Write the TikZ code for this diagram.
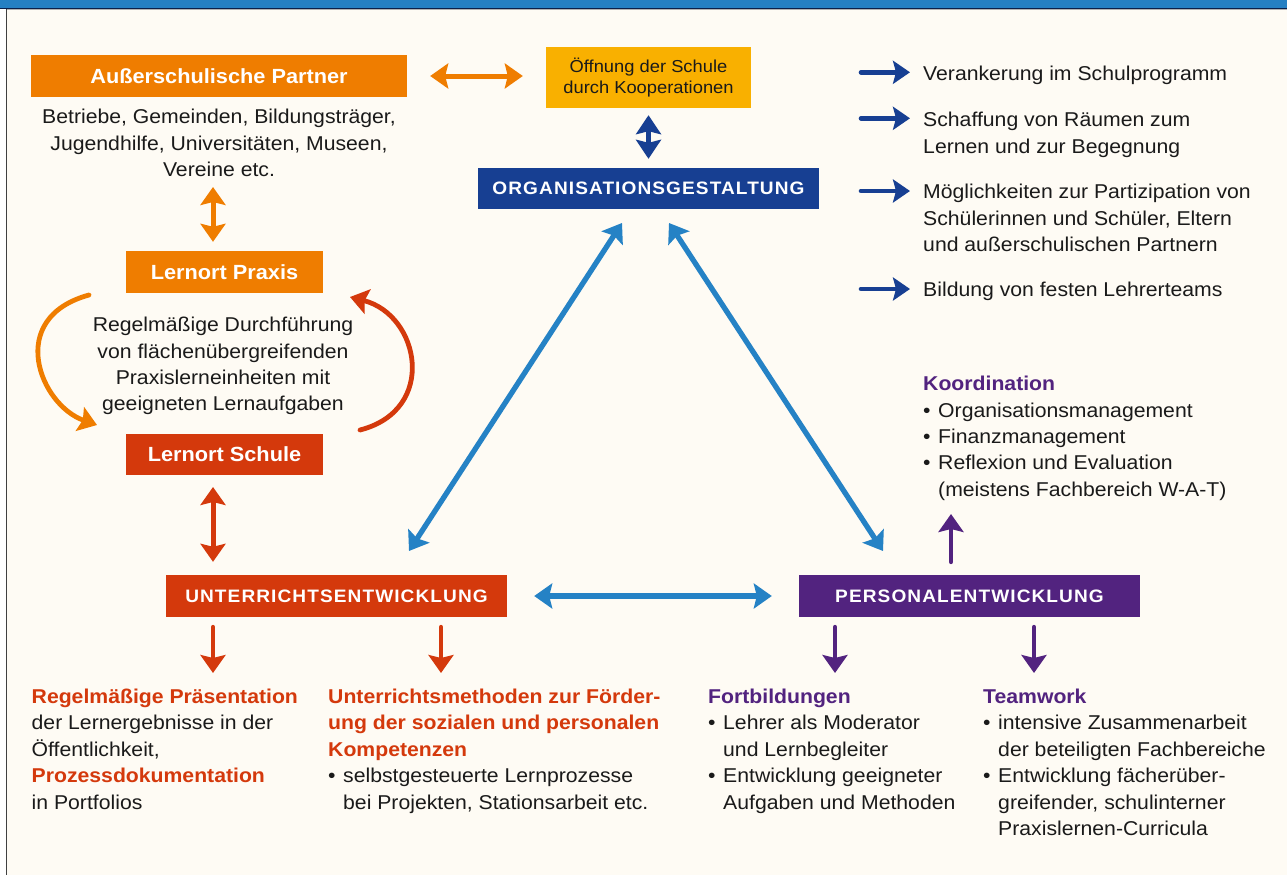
\documentclass[tikz,border=0pt]{standalone}
\usepackage{fontspec}
\setmainfont[FakeStretch=1.06]{Liberation Sans}
\usetikzlibrary{arrows.meta}
\definecolor{cOr}{HTML}{EF7D00}
\definecolor{cGold}{HTML}{F9B000}
\definecolor{cRed}{HTML}{D4390C}
\definecolor{cDBlue}{HTML}{173F92}
\definecolor{cLBlue}{HTML}{2582C5}
\definecolor{cPurp}{HTML}{52237F}
\definecolor{cBg}{HTML}{FEFBF4}
\definecolor{cTxt}{HTML}{1A1A1A}
\definecolor{cBar}{HTML}{2580C3}
\newcommand\rfont{\fontsize{20}{26.5}\selectfont}
\newcommand\bfnt{\fontsize{20.5}{26.5}\selectfont\bfseries}
\newcommand\capfont{\fontsize{18}{22}\selectfont\bfseries\addfontfeature{LetterSpace=6}}
\newcommand\st{\rule{0pt}{20pt}}
\newcommand\bul{\makebox[15pt][l]{•}}
\newcommand\ind{\hspace*{15pt}}
\newcommand\hr[1]{\textcolor{cRed}{\bfseries #1}}
\newcommand\hp[1]{\textcolor{cPurp}{\bfseries #1}}
\tikzset{
  BigT/.tip={Stealth[length=18pt,width=25pt,inset=3pt]},
  SmT/.tip={Stealth[length=17pt,width=23pt,inset=3pt]},
  boxnode/.style={inner sep=0pt, minimum height=42pt, text=white, font=\bfnt, text height=14.7pt, text depth=0pt},
  capbox/.style={inner sep=0pt, minimum height=41.5pt, minimum width=341pt, text=white, font=\capfont, text height=12.9pt, text depth=0pt},
  txt/.style={inner sep=0pt, font=\rfont, text=cTxt, align=left},
  dbl/.style={draw=#1, line width=5pt, arrows=BigT-BigT},
  one/.style={draw=#1, line width=4.8pt, line cap=round, arrows=-BigT},
  lst/.style={draw=cDBlue, line width=4.6pt, line cap=round, arrows=-SmT},
}
\begin{document}
\begin{tikzpicture}[x=1pt,y=-1pt]
\useasboundingbox (0,0) rectangle (1287,875);
\fill[white] (0,0) rectangle (1287,875);
\fill[cBg] (6,9) rectangle (1287,875);
\fill[cBar] (0,0) rectangle (1287,7.8);
\draw[cDBlue!50!black, line width=1.2pt] (0,8.3) -- (1287,8.3);
\draw[gray!60, line width=0.8pt] (6,9.5) -- (1287,9.5);
\draw[black!75, line width=1.3pt] (6.6,8.8) -- (6.6,875);

% boxes
\node[boxnode, fill=cOr, minimum width=376pt] (partner) at (219,76) {Außerschulische Partner};
\node[inner sep=0pt, fill=cGold, minimum width=205pt, minimum height=61pt, align=center, text=cTxt,
      font=\fontsize{17.3}{21.3}\selectfont] (oeff) at (648.5,77.5) {Öffnung der Schule\\durch Kooperationen};
\node[capbox, fill=cDBlue] (org) at (648.5,188.5) {ORGANISATIONSGESTALTUNG};
\node[boxnode, fill=cOr, minimum width=197pt] (praxis) at (224.5,272) {Lernort Praxis};
\node[boxnode, fill=cRed, minimum width=197pt, minimum height=41pt] (schule) at (224.5,454.5) {Lernort Schule};
\node[capbox, fill=cRed, minimum height=42pt] (unter) at (336.5,596) {UNTERRICHTSENTWICKLUNG};
\node[capbox, fill=cPurp, minimum height=42pt] (pers) at (969.5,596) {PERSONALENTWICKLUNG};

% texts
\node[txt, anchor=north, align=center] (partnertxt) at (219,103.5)
  {\st Betriebe, Gemeinden, Bildungsträger,\\Jugendhilfe, Universitäten, Museen,\\Vereine etc.};
\node[txt, anchor=north, align=center, font=\fontsize{20}{26.4}\selectfont] (praxtxt) at (223,311.5)
  {\st Regelmäßige Durchführung\\von flächenübergreifenden\\Praxislerneinheiten mit\\geeigneten Lernaufgaben};
\node[txt, anchor=north west] (l1) at (923,60) {\st Verankerung im Schulprogramm};
\node[txt, anchor=north west, font=\fontsize{20}{27}\selectfont] (l2) at (923,106) {\st Schaffung von Räumen zum\\Lernen und zur Begegnung};
\node[txt, anchor=north west, font=\fontsize{20}{26.7}\selectfont] (l3) at (923,178.3) {\st Möglichkeiten zur Partizipation von\\Schülerinnen und Schüler, Eltern\\und außerschulischen Partnern};
\node[txt, anchor=north west] (l4) at (923,276.7) {\st Bildung von festen Lehrerteams};
\node[txt, anchor=north west, font=\fontsize{20}{26.3}\selectfont] (koord) at (923,370.7)
  {\st\hp{Koordination}\\\bul Organisationsmanagement\\\bul Finanzmanagement\\\bul Reflexion und Evaluation\\\ind(meistens Fachbereich W-A-T)};
\node[txt, anchor=north west] (c1) at (31.5,683)
  {\st\hr{Regelmäßige Präsentation}\\der Lernergebnisse in der\\Öffentlichkeit,\\\hr{Prozessdokumentation}\\in Portfolios};
\node[txt, anchor=north west] (c2) at (328,683)
  {\st\hr{Unterrichtsmethoden zur Förder-}\\\hr{ung der sozialen und personalen}\\\hr{Kompetenzen}\\\bul selbstgesteuerte Lernprozesse\\\ind bei Projekten, Stationsarbeit etc.};
\node[txt, anchor=north west] (c3) at (708,683)
  {\st\hp{Fortbildungen}\\\bul Lehrer als Moderator\\\ind und Lernbegleiter\\\bul Entwicklung geeigneter\\\ind Aufgaben und Methoden};
\node[txt, anchor=north west] (c4) at (983,683)
  {\st\hp{Teamwork}\\\bul intensive Zusammenarbeit\\\ind der beteiligten Fachbereiche\\\bul Entwicklung fächerüber-\\\ind greifender, schulinterner\\\ind Praxislernen-Curricula};

% arrows top
\draw[dbl=cOr, shorten <=23pt, shorten >=23pt] (partner.east) -- (partner.east -| oeff.west);
\draw[dbl=cDBlue, arrows={Stealth[length=19pt,width=25pt,inset=3pt]-Stealth[length=19pt,width=25pt,inset=3pt]}, shorten <=7pt, shorten >=8.75pt] (oeff.south) -- (org.north);
\coordinate (ot) at (213,187);
\draw[dbl=cOr, shorten >=9pt] (ot) -- (ot |- praxis.north);
\coordinate (rt) at (213,487);
\draw[dbl=cRed, shorten >=13pt] (rt) -- (rt |- unter.north);

% list arrows
\coordinate (p1) at (861,72.3);
\coordinate (p2) at (861,118.3);
\coordinate (p3) at (861,191);
\coordinate (p4) at (861,289);
\draw[lst, shorten >=13pt] (p1) -- (p1 -| l1.west);
\draw[lst, shorten >=13pt] (p2) -- (p2 -| l2.west);
\draw[lst, shorten >=13pt] (p3) -- (p3 -| l3.west);
\draw[lst, shorten >=13pt] (p4) -- (p4 -| l4.west);

% cycle arrows
\coordinate (lcs) at (89,295);
\coordinate (lce) at (97,425);
\coordinate (rcs) at (360,430);
\coordinate (rce) at (350,297);
\draw[one=cOr] (lcs) .. controls (5,318) and (40,405) .. (lce);
\draw[one=cRed] (rcs) .. controls (438,410) and (420,315) .. (rce);

% triangle
\coordinate (dl1) at (622,223);
\coordinate (dl2) at (409,551);
\coordinate (dr1) at (669,223);
\coordinate (dr2) at (883,551);
\draw[dbl=cLBlue, line width=5.3pt] (dl1) -- (dl2);
\draw[dbl=cLBlue, line width=5.3pt] (dr1) -- (dr2);
\draw[dbl=cLBlue, line width=5.3pt, shorten <=27pt, shorten >=27pt] (unter.east) -- (pers.west);

% down arrows
\draw[one=cRed, shorten <=10pt, shorten >=10pt] ([xshift=-123.5pt]unter.south) -- ([xshift=-123.5pt]unter.south |- c1.north);
\draw[one=cRed, shorten <=10pt, shorten >=10pt] ([xshift=104.5pt]unter.south) -- ([xshift=104.5pt]unter.south |- c2.north);
\draw[one=cPurp, shorten <=10pt, shorten >=10pt] ([xshift=-134.5pt]pers.south) -- ([xshift=-134.5pt]pers.south |- c3.north);
\draw[one=cPurp, shorten <=10pt, shorten >=10pt] ([xshift=64.5pt]pers.south) -- ([xshift=64.5pt]pers.south |- c4.north);
\coordinate (ktip) at (951,514);
\draw[one=cPurp, shorten <=13pt] ([xshift=-18.5pt]pers.north) -- (ktip);
\end{tikzpicture}
\end{document}
